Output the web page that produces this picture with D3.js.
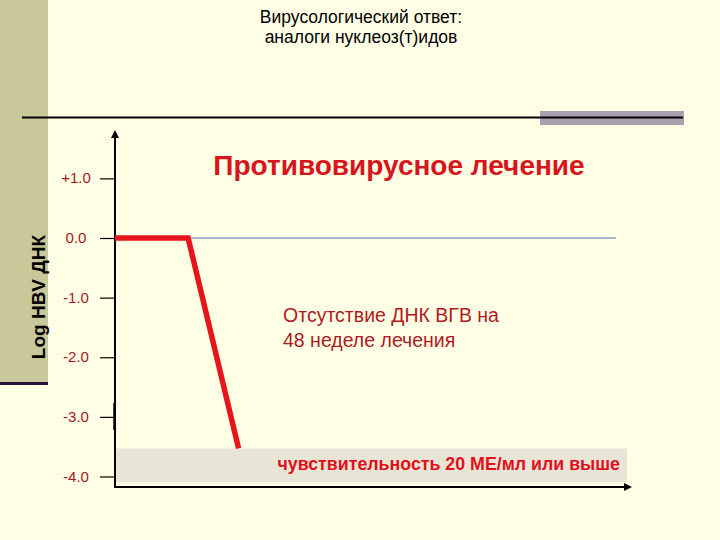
<!DOCTYPE html>
<html><head><meta charset="utf-8">
<script src="https://cdn.jsdelivr.net/npm/d3@7"></script>
<style>
html,body{margin:0;padding:0;background:#FFFFE6;}
svg{display:block;}
</style></head>
<body>
<svg id="chart" width="720" height="540"></svg>
<script>
const titleLines = ["Вирусологический ответ:", "аналоги нуклеоз(т)идов"];
const yTickValues = [1, 0, -1, -2, -3, -4];
const yTickLabels = ["+1.0", "0.0", "-1.0", "-2.0", "-3.0", "-4.0"];
const yAxisTitle = "Log HBV ДНК";
const treatmentLabel = "Противовирусное лечение";
const noteLines = ["Отсутствие ДНК ВГВ на", "48 неделе лечения"];
const sensitivityLabel = "чувствительность 20 МЕ/мл или выше";
const viralX = [0, 14.2, 24];
const viralY = [0, 0, -3.53];
const baselineX = [14.2, 97.3];
const baselineY = [0, 0];
const detectionLimit = -3.53;

const svg = d3.select("#chart");
const x = d3.scaleLinear().domain([0, 100]).range([115, 630]);
const y = d3.scaleLinear().domain([0, -4]).range([238, 476.5]);
const sans = "'Liberation Sans',Arial,sans-serif";

// background decorations
svg.append("rect").attr("x",0).attr("y",0).attr("width",720).attr("height",540).attr("fill","#FFFFE6");
svg.append("rect").attr("x",0).attr("y",0).attr("width",48).attr("height",383).attr("fill","#C8C89A");
svg.append("rect").attr("x",0).attr("y",382).attr("width",48).attr("height",3).attr("fill","#2B1035");
svg.append("rect").attr("x",540).attr("y",111).attr("width",144).attr("height",14).attr("fill","#A8A2B0");
svg.append("line").attr("x1",22).attr("x2",683).attr("y1",117.5).attr("y2",117.5).attr("stroke","#000").attr("stroke-width",2);

// title
svg.append("g").selectAll("text").data(titleLines).join("text")
  .attr("x",361).attr("y",(d,i)=>23+i*20)
  .attr("text-anchor","middle")
  .attr("font-family",sans)
  .attr("font-size",17.5).attr("fill","#000").text(d=>d);

// sensitivity band
svg.append("rect").attr("x",x(0)).attr("y",y(detectionLimit)).attr("width",x(99.4)-x(0)).attr("height",y(-4.1)-y(detectionLimit))
  .attr("fill","#E8E4D6");
svg.append("text").attr("x",620).attr("y",470).attr("text-anchor","end")
  .attr("font-family",sans).attr("font-weight","bold")
  .attr("font-size",17.8).attr("fill","#E0101A").text(sensitivityLabel);

// axes
const yAxis = d3.axisLeft(y).tickValues(yTickValues).tickSize(16).tickFormat("");
const gy = svg.append("g").attr("transform","translate(116,0)").call(yAxis);
gy.select(".domain").remove();
gy.selectAll(".tick line").attr("stroke","#000").attr("stroke-width",1.2);
svg.append("g").selectAll("text").data(yTickValues).join("text")
  .attr("x",76).attr("y",d=>y(d)+5)
  .attr("text-anchor","middle")
  .attr("font-family",sans)
  .attr("font-size",15).attr("fill","#A8161C")
  .text((d,i)=>yTickLabels[i]);

const defs = svg.append("defs");
defs.append("marker").attr("id","arr").attr("viewBox","0 0 10 10").attr("refX",5).attr("refY",5)
  .attr("markerWidth",4).attr("markerHeight",4).attr("orient","auto")
  .append("path").attr("d","M0,0 L10,5 L0,10 Z").attr("fill","#000");

svg.append("line").attr("x1",115).attr("x2",115).attr("y1",488).attr("y2",134)
  .attr("stroke","#000").attr("stroke-width",2).attr("marker-end","url(#arr)");
svg.append("line").attr("x1",114).attr("x2",628).attr("y1",487).attr("y2",487)
  .attr("stroke","#000").attr("stroke-width",2).attr("marker-end","url(#arr)");
svg.append("line").attr("x1",114.5).attr("x2",114.5).attr("y1",403).attr("y2",430)
  .attr("stroke","#000").attr("stroke-width",2.5);

// y axis title
svg.append("text").attr("transform","translate(45,297) rotate(-90)")
  .attr("text-anchor","middle")
  .attr("font-family",sans).attr("font-weight","bold")
  .attr("font-size",19).attr("fill","#000").text(yAxisTitle);

// baseline
const line = d3.line().x(d=>x(d[0])).y(d=>y(d[1]));
svg.append("path").datum(baselineX.map((v,i)=>[v,baselineY[i]]))
  .attr("d",line).attr("fill","none").attr("stroke","#5070B8").attr("stroke-width",1);

// viral load line
svg.append("path").datum(viralX.map((v,i)=>[v,viralY[i]]))
  .attr("d",line).attr("fill","none").attr("stroke","#E8141C").attr("stroke-width",5.5)
  .attr("stroke-linejoin","miter");

// labels
svg.append("text").attr("x",399).attr("y",175).attr("text-anchor","middle")
  .attr("font-family",sans).attr("font-weight","bold")
  .attr("font-size",28).attr("fill","#D8141C").text(treatmentLabel);
svg.append("g").selectAll("text").data(noteLines).join("text")
  .attr("x",283).attr("y",(d,i)=>322+i*24.5)
  .attr("font-family",sans)
  .attr("font-size",19.5).attr("fill","#B01A1E").text(d=>d);
</script>
</body></html>
